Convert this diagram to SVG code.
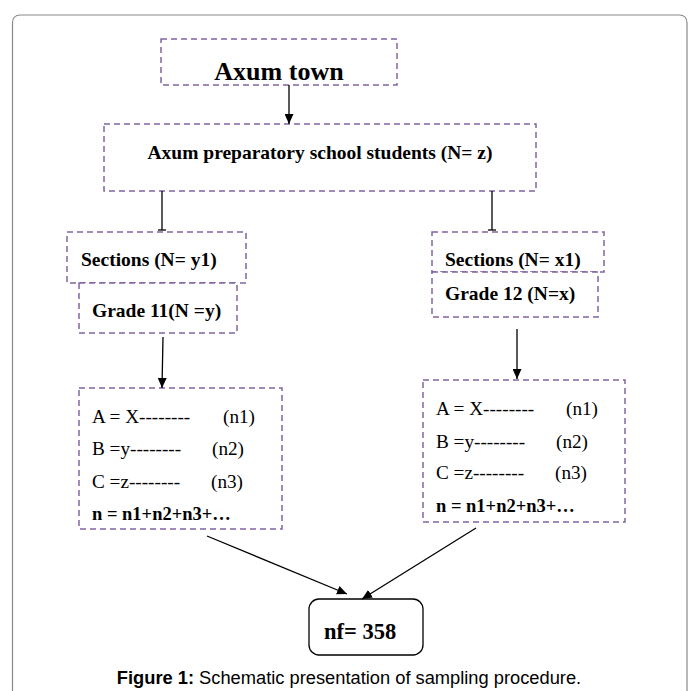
<svg xmlns="http://www.w3.org/2000/svg" width="694" height="691" viewBox="0 0 694 691">
<style>
.box{fill:none;stroke:#8064A2;stroke-width:1.5;stroke-dasharray:6 4}
.boxw{fill:#fff;stroke:#8064A2;stroke-width:1.5;stroke-dasharray:6 4}
.b{font-family:"Liberation Serif","Times New Roman",serif;font-weight:bold;fill:#000}
.r{font-family:"Liberation Serif","Times New Roman",serif;fill:#000}
.l{font-size:19.2px}
.conn{stroke:#000;stroke-width:1.3;fill:none}
.cap{font-family:"Liberation Sans",Arial,sans-serif;font-size:18.3px;fill:#000}
</style>
<defs>
<marker id="arr" markerUnits="userSpaceOnUse" markerWidth="10" markerHeight="9" viewBox="0 0 10 9" refX="10" refY="4.5" orient="auto"><path d="M0,0 L10,4.5 L0,9 z" fill="#000"/></marker>
<marker id="tee" markerUnits="userSpaceOnUse" markerWidth="3" markerHeight="10" viewBox="0 -5 3 10" refX="1.5" refY="0" orient="auto"><path d="M1.5,-4 L1.5,4" stroke="#000" stroke-width="1.3"/></marker>
</defs>
<rect width="694" height="691" fill="#fff"/>
<path d="M12.5,700 L12.5,23 Q12.5,15 20.5,15 L679,15 Q687,15 687,23 L687,700" fill="none" stroke="#8a8a8a" stroke-width="1.2"/>

<g id="axum-town">
<rect class="box" x="161" y="39" width="236" height="46"/>
<text class="b" x="279" y="80" font-size="26" text-anchor="middle">Axum town</text>
</g>
<g id="prep-school">
<rect class="box" x="104" y="124" width="432" height="67"/>
<text class="b" x="320" y="159" font-size="19.5" text-anchor="middle">Axum preparatory school students (N= z)</text>
</g>
<g id="sections-y1">
<rect class="box" x="67" y="232" width="179" height="51"/>
<text class="b" x="81" y="266" font-size="19.5">Sections (N= y1)</text>
</g>
<g id="grade-11">
<rect class="boxw" x="79" y="283" width="158" height="50"/>
<text class="b" x="92" y="317" font-size="19.5">Grade 11(N =y)</text>
</g>
<g id="sections-x1">
<rect class="box" x="432" y="232" width="172" height="40"/>
<text class="b" x="445" y="266" font-size="19.5">Sections (N= x1)</text>
</g>
<g id="grade-12">
<rect class="boxw" x="432" y="272" width="166" height="45"/>
<text class="b" x="445" y="300" font-size="19.5">Grade 12 (N=x)</text>
</g>
<g id="list-11">
<rect class="box" x="79" y="388" width="203" height="141"/>
<text class="r l" x="92" y="423">A = X--------</text>
<text class="r l" x="223" y="423">(n1)</text>
<text class="r l" x="92" y="455">B =y--------</text>
<text class="r l" x="212" y="455">(n2)</text>
<text class="r l" x="92" y="488">C =z--------</text>
<text class="r l" x="211" y="488">(n3)</text>
<text class="b" x="92" y="520" font-size="18.5">n = n1+n2+n3+…</text>
</g>
<g id="list-12">
<rect class="box" x="423" y="380" width="202" height="142"/>
<text class="r l" x="436" y="415">A = X--------</text>
<text class="r l" x="566" y="415">(n1)</text>
<text class="r l" x="436" y="448">B =y--------</text>
<text class="r l" x="556" y="448">(n2)</text>
<text class="r l" x="436" y="479">C =z--------</text>
<text class="r l" x="555" y="479">(n3)</text>
<text class="b" x="436" y="512" font-size="18.5">n = n1+n2+n3+…</text>
</g>
<g id="nf">
<rect x="309" y="599" width="114" height="56" rx="10" fill="#fff" stroke="#000" stroke-width="1.3"/>
<text class="b" x="324" y="639" font-size="22.5">nf= 358</text>
</g>
<g id="connectors">
<line class="conn" x1="289" y1="85" x2="289" y2="124" marker-end="url(#arr)"/>
<line class="conn" x1="162" y1="191" x2="162" y2="230" marker-end="url(#tee)"/>
<line class="conn" x1="492" y1="191" x2="492" y2="230" marker-end="url(#tee)"/>
<line class="conn" x1="163" y1="337" x2="162" y2="388" marker-end="url(#arr)"/>
<line class="conn" x1="517" y1="329" x2="517" y2="379" marker-end="url(#arr)"/>
<line class="conn" x1="207" y1="536" x2="347" y2="594" marker-end="url(#arr)"/>
<line class="conn" x1="476" y1="528" x2="362" y2="599" marker-end="url(#arr)"/>
</g>
<text class="cap" x="349" y="684" text-anchor="middle"><tspan font-weight="bold">Figure 1:</tspan> Schematic presentation of sampling procedure.</text>
</svg>
